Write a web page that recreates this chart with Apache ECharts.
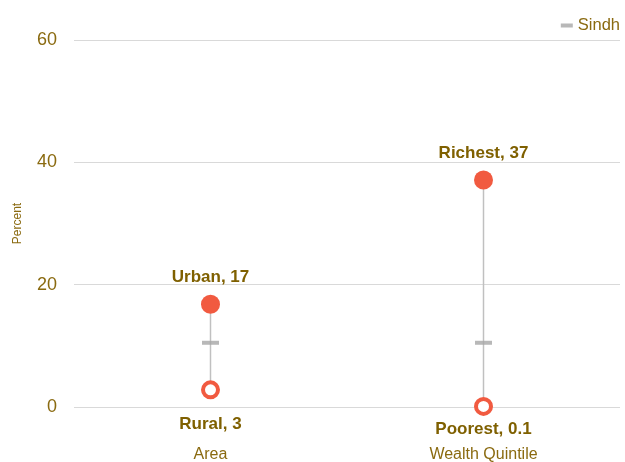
<!DOCTYPE html>
<html><head><meta charset="utf-8">
<script src="https://cdn.jsdelivr.net/npm/echarts@6/dist/echarts.min.js"></script>
<style>html,body{margin:0;padding:0;background:#fff}#c{width:625px;height:462px}</style>
</head><body><div id="c"></div>
<script>
var categories = ['Area', 'Wealth Quintile'];
var highNames = ['Urban', 'Richest'];
var highValues = [16.8, 37.1];
var lowNames = ['Rural', 'Poorest'];
var lowValues = [2.8, 0.1];
var highLabels = ['17', '37'];
var lowLabels = ['3', '0.1'];
var sindhValues = [10.5, 10.5];
var yTicks = [0, 20, 40, 60];

var gold = '#7f6000';
var tickGold = '#8a6a10';
var red = '#f15a40';
var lowLabelDistance = [16, 5];

var chart = echarts.init(document.getElementById('c'));
chart.setOption({
  animation: false,
  grid: {left: 74, right: 5, top: 40, bottom: 55, outerBoundsMode: 'none', containLabel: false},
  legend: {
    data: [{name: 'Sindh', icon: 'rect'}],
    right: 0, top: 12, itemWidth: 12, itemHeight: 4, itemGap: 4,
    textStyle: {color: tickGold, fontSize: 16.5, fontFamily: 'Liberation Sans'}
  },
  xAxis: {
    type: 'category', data: categories, boundaryGap: true,
    axisLine: {show: false}, axisTick: {show: false},
    axisLabel: {color: tickGold, fontSize: 16, margin: 40, fontFamily: 'Liberation Sans'}
  },
  yAxis: {
    type: 'value', min: 0, max: 60, interval: 20,
    name: 'Percent', nameLocation: 'middle', nameGap: 50,
    nameTextStyle: {color: tickGold, fontSize: 12, fontFamily: 'Liberation Sans'},
    axisLine: {show: false}, axisTick: {show: false},
    splitLine: {lineStyle: {color: '#d9d9d9', width: 1}},
    axisLabel: {color: tickGold, fontSize: 18, margin: 17, fontFamily: 'Liberation Sans',
      formatter: function (v) { return yTicks.indexOf(v) >= 0 ? String(v) : ''; }}
  },
  series: [
    {
      type: 'custom', name: 'range', silent: true, z: 1,
      data: categories.map(function (c, i) { return [i, lowValues[i], highValues[i]]; }),
      renderItem: function (params, api) {
        var p1 = api.coord([api.value(0), api.value(1)]);
        var p2 = api.coord([api.value(0), api.value(2)]);
        return {type: 'line', shape: {x1: p1[0], y1: p1[1], x2: p2[0], y2: p2[1]},
          style: {stroke: '#c0c0c0', lineWidth: 1.5}};
      },
      encode: {x: 0, y: [1, 2]}
    },
    {
      type: 'scatter', name: 'Sindh', z: 3,
      data: sindhValues, symbol: 'rect', symbolSize: [17, 4],
      itemStyle: {color: '#a6a6a6'}
    },
    {
      type: 'scatter', name: 'high', z: 4,
      data: highValues, symbolSize: 19, itemStyle: {color: red, opacity: 1},
      label: {show: true, position: 'top', distance: 9, color: gold, fontSize: 17, fontWeight: 'bold',
        fontFamily: 'Liberation Sans',
        formatter: function (p) { return highNames[p.dataIndex] + ', ' + highLabels[p.dataIndex]; }}
    },
    {
      type: 'scatter', name: 'low', z: 4,
      data: lowValues.map(function (v, i) { return {value: v, label: {distance: lowLabelDistance[i]}}; }),
      symbolSize: 15,
      itemStyle: {color: '#fff', borderColor: red, borderWidth: 4, opacity: 1},
      label: {show: true, position: 'bottom', color: gold, fontSize: 17, fontWeight: 'bold',
        fontFamily: 'Liberation Sans',
        formatter: function (p) { return lowNames[p.dataIndex] + ', ' + lowLabels[p.dataIndex]; }}
    }
  ]
});
</script></body></html>
